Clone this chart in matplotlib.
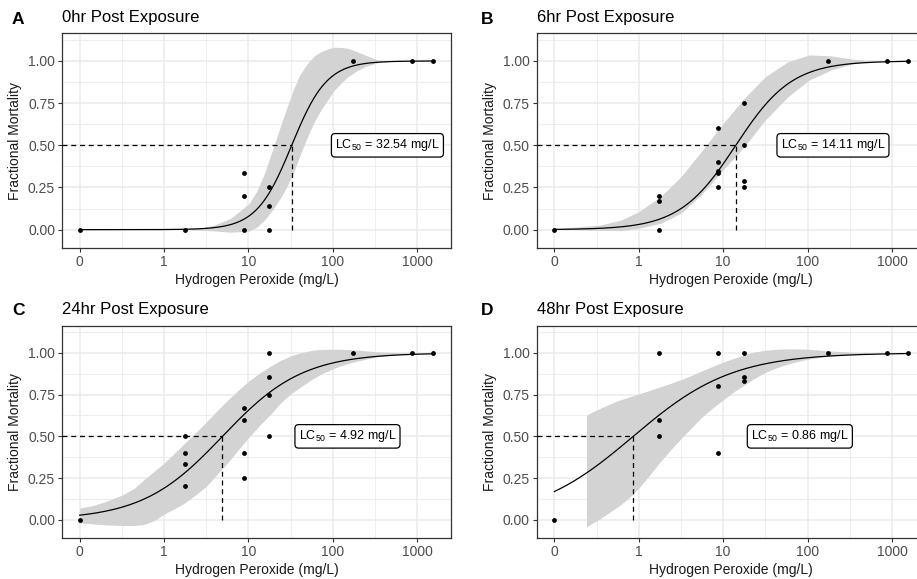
import numpy as np
import matplotlib
matplotlib.use("Agg")
import matplotlib.pyplot as plt

plt.rcParams['font.family'] = ['Liberation Sans', 'DejaVu Sans']
plt.rcParams['mathtext.fontset'] = 'custom'
plt.rcParams['mathtext.rm'] = 'Liberation Sans'
plt.rcParams['mathtext.it'] = 'Liberation Sans:italic'
plt.rcParams['mathtext.bf'] = 'Liberation Sans:bold'
plt.rcParams['mathtext.default'] = 'regular'

# ---------------- data ----------------
panel_letters = ["A", "B", "C", "D"]
panel_titles = ["0hr Post Exposure", "6hr Post Exposure", "24hr Post Exposure", "48hr Post Exposure"]
lc50_values = [32.54, 14.11, 4.92, 0.86]
slopes = [4.8, 3.0, 2.1, 1.7]          # logistic slope per log10 unit

xtick_values = [0, 1, 10, 100, 1000]
xtick_labels = ["0", "1", "10", "100", "1000"]
ytick_values = [0.0, 0.25, 0.5, 0.75, 1.0]
ytick_labels = ["0.00", "0.25", "0.50", "0.75", "1.00"]
max_dose = 1550

# observations (dose mg/L, fractional mortality)
pts_A_dose = [0, 1.75, 8.75, 8.75, 8.75, 17.5, 17.5, 17.5, 175, 875, 1550]
pts_A_mort = [0, 0, 0, 0.2, 0.333, 0, 0.143, 0.25, 1, 1, 1]
pts_B_dose = [0, 1.75, 1.75, 1.75, 8.75, 8.75, 8.75, 8.75, 8.75, 17.5, 17.5, 17.5, 17.5, 175, 875, 1550]
pts_B_mort = [0, 0, 0.167, 0.2, 0.25, 0.333, 0.35, 0.4, 0.6, 0.25, 0.286, 0.5, 0.75, 1, 1, 1]
pts_C_dose = [0, 1.75, 1.75, 1.75, 1.75, 8.75, 8.75, 8.75, 8.75, 17.5, 17.5, 17.5, 17.5, 175, 875, 1550]
pts_C_mort = [0, 0.2, 0.333, 0.4, 0.5, 0.25, 0.4, 0.6, 0.667, 0.5, 0.75, 0.857, 1, 1, 1, 1]
pts_D_dose = [0, 1.75, 1.75, 1.75, 8.75, 8.75, 8.75, 17.5, 17.5, 17.5, 175, 875, 1550]
pts_D_mort = [0, 0.5, 0.6, 1, 0.4, 0.8, 1, 0.833, 0.857, 1, 1, 1, 1]

# confidence band (log10 dose, lower, upper)
band_A_logx = [0.30, 0.45, 0.60, 0.79, 1.01, 1.10, 1.19, 1.29, 1.39, 1.46, 1.53, 1.61, 1.70, 1.78, 1.86, 1.94, 2.02, 2.10, 2.18, 2.28, 2.38, 2.53, 2.70]
band_A_low = [0.000, -0.004, -0.008, -0.015, -0.008, 0.015, 0.057, 0.12, 0.196, 0.26, 0.334, 0.44, 0.551, 0.64, 0.71, 0.77, 0.828, 0.87, 0.907, 0.94, 0.966, 0.99, 0.998]
band_A_up = [0.003, 0.012, 0.028, 0.068, 0.156, 0.23, 0.334, 0.48, 0.63, 0.73, 0.828, 0.92, 0.986, 1.03, 1.055, 1.072, 1.081, 1.08, 1.075, 1.056, 1.036, 1.005, 1.0]

band_B_logx = [-0.90, -0.75, -0.59, -0.45, -0.21, 0.0, 0.26, 0.50, 0.74, 1.00, 1.25, 1.50, 1.77, 2.02, 2.28, 2.52, 2.73, 3.00]
band_B_low = [0.0, 0.0, -0.003, -0.004, -0.006, 0.008, 0.038, 0.097, 0.206, 0.354, 0.492, 0.65, 0.789, 0.887, 0.947, 0.982, 0.996, 1.0]
band_B_up = [0.008, 0.015, 0.022, 0.028, 0.057, 0.107, 0.196, 0.314, 0.462, 0.63, 0.779, 0.907, 0.996, 1.036, 1.03, 1.012, 1.0, 1.0]

band_C_logx = [-1.0, -0.85, -0.70, -0.49, -0.35, -0.24, -0.12, 0.0, 0.12, 0.24, 0.37, 0.50, 0.62, 0.75, 0.88, 1.01, 1.14, 1.27, 1.38, 1.50, 1.63, 1.76, 1.89, 2.02, 2.16, 2.30, 2.54, 2.81, 3.10]
band_C_low = [-0.018, -0.024, -0.030, -0.034, -0.034, -0.028, -0.006, 0.035, 0.065, 0.10, 0.148, 0.20, 0.268, 0.34, 0.42, 0.497, 0.57, 0.636, 0.70, 0.754, 0.80, 0.844, 0.88, 0.909, 0.934, 0.952, 0.978, 0.992, 1.0]
band_C_up = [0.071, 0.085, 0.108, 0.15, 0.19, 0.24, 0.29, 0.34, 0.398, 0.457, 0.52, 0.586, 0.65, 0.715, 0.777, 0.834, 0.882, 0.923, 0.955, 0.982, 1.002, 1.016, 1.021, 1.022, 1.02, 1.016, 1.006, 1.0, 1.0]

band_D_logx = [-0.62, -0.55, -0.47, -0.36, -0.24, -0.12, 0.0, 0.12, 0.24, 0.38, 0.52, 0.64, 0.75, 0.87, 0.99, 1.13, 1.27, 1.38, 1.50, 1.62, 1.74, 1.87, 2.00, 2.26, 2.53, 2.73]
band_D_low = [-0.042, -0.02, 0.002, 0.04, 0.081, 0.13, 0.19, 0.262, 0.339, 0.42, 0.497, 0.56, 0.616, 0.668, 0.715, 0.768, 0.814, 0.85, 0.883, 0.908, 0.929, 0.947, 0.962, 0.982, 0.992, 0.998]
band_D_up = [0.626, 0.646, 0.665, 0.69, 0.715, 0.735, 0.754, 0.774, 0.794, 0.818, 0.844, 0.868, 0.893, 0.918, 0.943, 0.968, 0.992, 1.006, 1.016, 1.021, 1.024, 1.024, 1.022, 1.012, 1.004, 1.0]

points = [(pts_A_dose, pts_A_mort), (pts_B_dose, pts_B_mort), (pts_C_dose, pts_C_mort), (pts_D_dose, pts_D_mort)]
bands = [(band_A_logx, band_A_low, band_A_up), (band_B_logx, band_B_low, band_B_up),
         (band_C_logx, band_C_low, band_C_up), (band_D_logx, band_D_low, band_D_up)]
label_x_dose = [443, 200, 149, 81]

# ---------------- layout ----------------
W, H = 917, 579
fig = plt.figure(figsize=(W / 100, H / 100), dpi=100)

def box(left, top, right, bottom):
    return [left / W, 1 - bottom / H, (right - left) / W, (bottom - top) / H]

rects = [box(62, 33.3, 451, 247.7), box(536.7, 33.3, 925.7, 247.7),
         box(62, 325.5, 451, 537.7), box(536.7, 325.5, 925.7, 537.7)]
letter_pos = [(12, 19), (481, 19), (12, 311), (481, 311)]

ZERO_POS = 0.1   # where dose 0 is drawn on the log axis

def pos(d):
    d = np.asarray(d, dtype=float)
    return np.where(d == 0, ZERO_POS, d)

lo_log = np.log10(ZERO_POS)
hi_log = np.log10(max_dose)
pad = 0.05 * (hi_log - lo_log)
xlim = (10 ** (lo_log - pad), 10 ** (hi_log + pad))
ylim = (-0.107, 1.164)

grid_col = "#EBEBEB"
for i in range(4):
    ax = fig.add_axes(rects[i])
    ax.set_xscale('log')
    ax.set_xlim(*xlim)
    ax.set_ylim(*ylim)
    ax.set_facecolor("white")

    # grid
    for k in range(-1, 3):
        ax.axvline(10 ** (k + 0.5), color=grid_col, lw=0.6, zorder=0)
    for v in [0.125, 0.375, 0.625, 0.875, 1.125]:
        ax.axhline(v, color=grid_col, lw=0.6, zorder=0)
    for v in pos(xtick_values):
        ax.axvline(v, color=grid_col, lw=1.1, zorder=0)
    for v in ytick_values:
        ax.axhline(v, color=grid_col, lw=1.1, zorder=0)

    # band
    bx, bl, bu = bands[i]
    ax.fill_between(10 ** np.asarray(bx), bl, bu, color="#D3D3D3", lw=0, zorder=1)

    # fitted curve
    lc, b = lc50_values[i], slopes[i]
    xs = np.logspace(np.log10(ZERO_POS), hi_log, 400)
    ys = 1 / (1 + np.exp(-b * (np.log10(xs) - np.log10(lc))))
    ax.plot(xs, ys, color="black", lw=0.9, zorder=3)

    # dashed guides
    ax.plot([xlim[0], lc], [0.5, 0.5], color="black", lw=0.9, ls=(0, (4, 3)), zorder=3)
    ax.plot([lc, lc], [0, 0.5], color="black", lw=0.9, ls=(0, (4, 3)), zorder=3)

    # points
    d, m = points[i]
    ax.scatter(pos(d), m, s=12, color="black", zorder=4, linewidths=0)

    # label
    ax.text(label_x_dose[i], 0.5, r"LC$_{50}$ = " + f"{lc:.2f} mg/L", ha="center", va="center",
            fontsize=9, color="black", zorder=5,
            bbox=dict(boxstyle="round,pad=0.3,rounding_size=0.3", fc="white", ec="black", lw=0.9))

    # axes styling
    ax.set_xticks(pos(xtick_values))
    ax.set_xticklabels(xtick_labels)
    ax.xaxis.set_minor_locator(matplotlib.ticker.NullLocator())
    ax.set_yticks(ytick_values)
    ax.set_yticklabels(ytick_labels)
    ax.tick_params(axis='both', length=3, width=0.8, color="#333333", labelcolor="#4D4D4D",
                   labelsize=10, pad=2)
    for sp in ax.spines.values():
        sp.set_color("#333333")
        sp.set_linewidth(0.9)
    ax.set_xlabel("Hydrogen Peroxide (mg/L)", fontsize=10, color="#1A1A1A", labelpad=3)
    ax.set_ylabel("Fractional Mortality", fontsize=10, color="#1A1A1A", labelpad=4)
    ax.set_title(panel_titles[i], loc="left", fontsize=12, color="black", pad=8)

    lx, ly = letter_pos[i]
    fig.text(lx / W, 1 - ly / H, panel_letters[i], fontsize=12.5, fontweight="bold",
             ha="left", va="center")

fig.savefig("out.png", dpi=100)
